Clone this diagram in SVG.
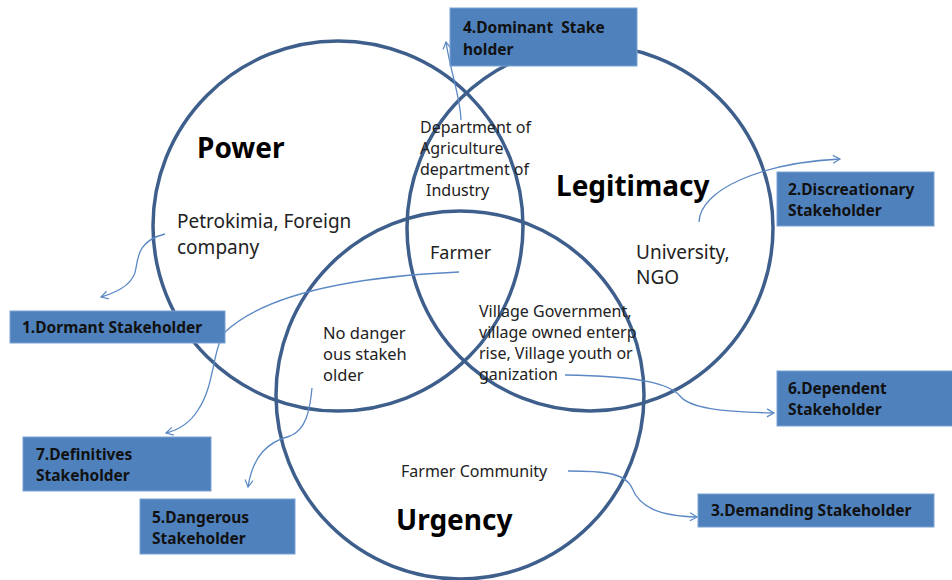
<svg xmlns="http://www.w3.org/2000/svg" width="952" height="580" viewBox="0 0 952 580">
  <defs>
    <marker id="chev" markerWidth="10" markerHeight="10" refX="8" refY="5" orient="auto" markerUnits="userSpaceOnUse">
      <path d="M1,1 L8,5 L1,9" fill="none" stroke="#5b88c4" stroke-width="1.2"/>
    </marker>
    <style>
      .ring { fill: none; stroke: #3e5f8c; stroke-width: 3.5; }
      .title { font-family: "Noto Sans", "Liberation Sans", sans-serif; font-weight: bold; font-size: 28px; fill: #000; }
      .lbl { font-family: "Noto Sans", "Liberation Sans", sans-serif; fill: #222; }
      .box rect { fill: #4f81bd; stroke: #7ba2d3; stroke-width: 1; }
      .box text { font-family: "Noto Sans", "Liberation Sans", sans-serif; font-weight: bold; font-size: 15.5px; fill: #111; white-space: pre; }
      .link { fill: none; stroke: #5b88c4; stroke-width: 1.3; marker-end: url(#chev); }
    </style>
  </defs>
  <rect width="952" height="580" fill="#fff"/>

  <!-- the three attribute circles -->
  <g id="circle-power"><circle class="ring" cx="338" cy="226" r="185"/></g>
  <g id="circle-legitimacy"><circle class="ring" cx="590" cy="228" r="183"/></g>
  <g id="circle-urgency"><circle class="ring" cx="460" cy="395" r="184"/></g>

  <!-- circle titles -->
  <g id="title-power"><text class="title" x="197" y="158">Power</text></g>
  <g id="title-legitimacy"><text class="title" x="556" y="196" font-size="27">Legitimacy</text></g>
  <g id="title-urgency"><text class="title" x="396" y="530">Urgency</text></g>

  <!-- members in each region -->
  <g id="lbl-petrokimia" class="lbl" font-size="19">
    <text x="177" y="228">Petrokimia, Foreign</text>
    <text x="177" y="254">company</text>
  </g>
  <g id="lbl-departments" class="lbl" font-size="16">
    <text x="420" y="133">Department of</text>
    <text x="420" y="154">Agriculture</text>
    <text x="420" y="175">department of</text>
    <text x="426" y="196">Industry</text>
  </g>
  <g id="lbl-farmer" class="lbl" font-size="18"><text x="430" y="259">Farmer</text></g>
  <g id="lbl-university" class="lbl" font-size="19">
    <text x="636" y="259">University,</text>
    <text x="636" y="284">NGO</text>
  </g>
  <g id="lbl-nodanger" class="lbl" font-size="16.5">
    <text x="323" y="339">No danger</text>
    <text x="323" y="360">ous stakeh</text>
    <text x="323" y="381">older</text>
  </g>
  <g id="lbl-village" class="lbl" font-size="16">
    <text x="479" y="317">Village Government,</text>
    <text x="479" y="338">village owned enterp</text>
    <text x="479" y="359">rise, Village youth or</text>
    <text x="479" y="380">ganization</text>
  </g>
  <g id="lbl-community" class="lbl" font-size="16"><text x="401" y="477">Farmer Community</text></g>

  <!-- connectors -->
  <g id="connectors">
    <path class="link" d="M461,120 C460,95 450,70 446,42"/>
    <path class="link" d="M699,222 C700,190 760,163 840,159"/>
    <path class="link" d="M565,375 C640,376 670,384 680,396 C690,408 720,412 774,413"/>
    <path class="link" d="M568,471 C600,471 625,472 632,488 C640,508 660,516 697,517"/>
    <path class="link" d="M165,234 C140,240 138,255 136,268 C134,285 115,293 101,297"/>
    <path class="link" d="M459,272 C370,276 270,290 225,332 C212,350 215,385 198,410 C190,423 178,430 166,433"/>
    <path class="link" d="M312,388 C310,410 306,430 290,436 C268,442 253,455 248,487"/>
  </g>

  <!-- stakeholder class boxes -->
  <g id="box-4" class="box">
    <rect x="450" y="8" width="187" height="58"/>
    <text x="463" y="33" xml:space="preserve">4.Dominant  Stake</text>
    <text x="463" y="55">holder</text>
  </g>
  <g id="box-2" class="box">
    <rect x="777" y="172" width="157" height="54"/>
    <text x="788" y="195">2.Discreationary</text>
    <text x="788" y="216">Stakeholder</text>
  </g>
  <g id="box-6" class="box">
    <rect x="777" y="371" width="176" height="55"/>
    <text x="788" y="394">6.Dependent</text>
    <text x="788" y="415">Stakeholder</text>
  </g>
  <g id="box-3" class="box">
    <rect x="698" y="494" width="236" height="33"/>
    <text x="711" y="516">3.Demanding Stakeholder</text>
  </g>
  <g id="box-1" class="box">
    <rect x="10" y="311" width="215" height="32"/>
    <text x="22" y="333">1.Dormant Stakeholder</text>
  </g>
  <g id="box-7" class="box">
    <rect x="23" y="437" width="188" height="54"/>
    <text x="36" y="460">7.Definitives</text>
    <text x="36" y="481">Stakeholder</text>
  </g>
  <g id="box-5" class="box">
    <rect x="140" y="499" width="155" height="55"/>
    <text x="152" y="523">5.Dangerous</text>
    <text x="152" y="544">Stakeholder</text>
  </g>
</svg>
